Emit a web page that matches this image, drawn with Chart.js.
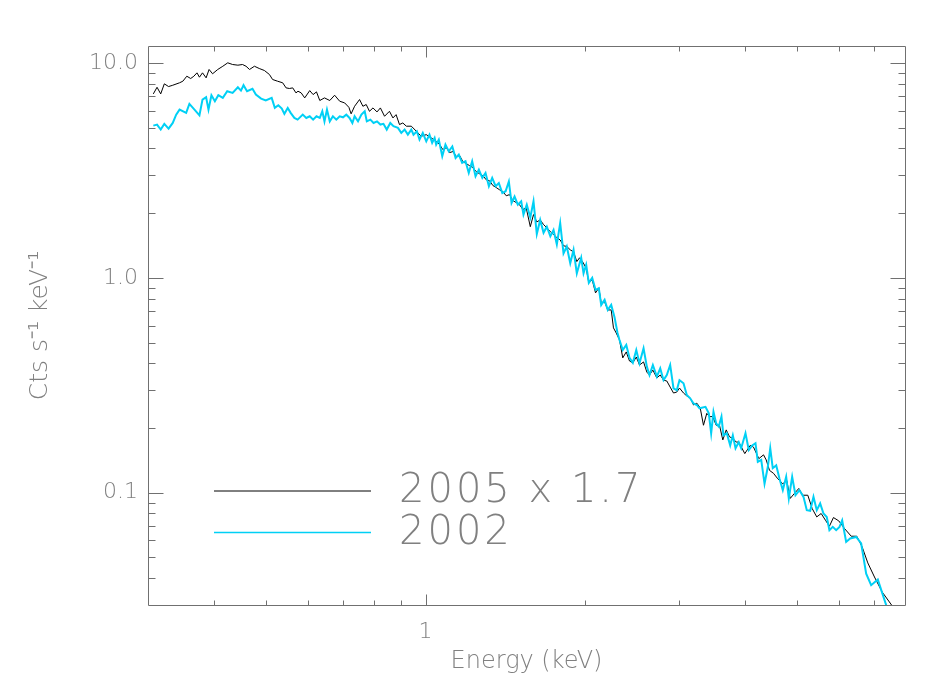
<!DOCTYPE html>
<html><head><meta charset="utf-8">
<script src="https://cdn.jsdelivr.net/npm/chart.js@4/dist/chart.umd.min.js"></script>
<style>html,body{margin:0;padding:0;background:#fff;}#wrap{width:950px;height:700px;}</style>
</head><body><div id="wrap"><canvas id="c" width="950" height="700"></canvas></div>
<script>
// ---- data ----
const seriesLabels = ['2005 x 1.7', '2002'];
const xTitle = 'Energy (keV)';
const yTitle = 'Cts s\u207B\u00B9 keV\u207B\u00B9';
const xTickLabels = {'0': '1'};
const yTickLabels = {'-1': '0.1', '0': '1.0', '1': '10.0'};

const energy2005 = [
0.307,0.312,0.317,0.322,0.328,0.334,0.344,0.349,0.355,0.361,
0.366,0.371,0.375,0.380,0.386,0.391,0.397,0.406,0.415,0.424,
0.433,0.443,0.452,0.459,0.466,0.476,0.486,0.497,0.508,0.515,
0.526,0.538,0.546,0.554,0.562,0.570,0.575,0.583,0.592,0.605,
0.614,0.623,0.632,0.645,0.660,0.674,0.689,0.704,0.717,0.724,
0.735,0.751,0.762,0.773,0.784,0.796,0.810,0.822,0.837,0.855,
0.868,0.880,0.893,0.906,0.920,0.940,0.961,0.981,1.003,1.025,
1.047,1.063,1.078,1.094,1.110,1.126,1.143,1.159,1.176,1.193,
1.210,1.228,1.246,1.264,1.282,1.301,1.320,1.339,1.359,1.378,
1.398,1.419,1.439,1.460,1.482,1.503,1.525,1.547,1.575,1.597,
1.620,1.644,1.668,1.692,1.718,1.742,1.767,1.793,1.819,1.845,
1.873,1.900,1.927,1.950,1.975,2.007,2.030,2.060,2.090,2.120,
2.142,2.174,2.204,2.237,2.259,2.286,2.319,2.352,2.388,2.422,
2.457,2.494,2.529,2.574,2.611,2.641,2.680,2.727,2.767,2.807,
2.847,2.889,2.931,2.973,3.008,3.061,3.105,3.151,3.197,3.243,
3.291,3.338,3.386,3.426,3.475,3.527,3.578,3.630,3.684,3.737,
3.791,3.847,3.890,3.993,4.088,4.147,4.244,4.331,4.382,4.445,
4.523,4.608,4.709,4.790,4.862,4.953,5.047,5.134,5.248,5.348,
5.456,5.561,5.666,5.764,5.866,6.002,6.153,6.336,6.490,6.643,
6.808,7.008,7.245,7.577];
const counts2005 = [
7.18,7.71,7.18,8.00,7.77,7.88,8.09,8.23,8.68,8.47,
8.68,9.00,8.59,9.00,8.53,9.33,8.91,9.33,9.66,10.02,
9.84,9.77,9.84,9.66,9.33,9.66,9.43,9.23,8.84,8.38,
8.23,8.09,7.66,7.61,7.66,7.26,7.39,7.26,6.88,7.44,
7.13,7.34,6.69,6.88,6.69,7.08,6.64,6.52,6.22,5.80,
6.29,6.76,6.29,6.41,5.96,6.18,5.92,6.18,5.65,5.96,
5.55,5.75,5.17,5.26,5.08,5.08,4.81,4.56,4.64,4.48,
4.32,4.17,3.95,4.04,3.83,3.87,3.67,3.71,3.47,3.40,
3.33,3.26,3.12,3.05,2.99,2.86,2.83,2.69,2.63,2.57,
2.52,2.41,2.44,2.29,2.24,2.19,2.08,2.12,1.73,1.97,
1.82,1.86,1.77,1.71,1.64,1.59,1.54,1.50,1.41,1.40,
1.35,1.32,1.19,1.24,1.19,1.11,0.948,0.979,0.851,0.898,
0.765,0.773,0.709,0.709,0.585,0.554,0.514,0.424,0.452,0.410,
0.402,0.428,0.393,0.406,0.364,0.353,0.372,0.342,0.353,0.334,
0.331,0.310,0.291,0.294,0.307,0.291,0.282,0.276,0.256,0.261,
0.248,0.206,0.234,0.226,0.226,0.206,0.206,0.176,0.196,0.182,
0.179,0.172,0.172,0.152,0.166,0.163,0.144,0.150,0.142,0.127,
0.123,0.116,0.110,0.114,0.0940,0.0992,0.1046,0.0973,0.0973,0.0844,
0.0771,0.0800,0.0744,0.0698,0.0766,0.0739,0.0681,0.0627,0.0627,0.0559,
0.0471,0.0405,0.0345,0.0296];

const energy2002 = [
0.307,0.312,0.317,0.322,0.328,0.334,0.339,0.344,0.354,0.359,
0.367,0.375,0.380,0.386,0.390,0.395,0.401,0.407,0.415,0.423,
0.433,0.443,0.449,0.454,0.461,0.472,0.479,0.490,0.500,0.513,
0.520,0.528,0.536,0.542,0.550,0.557,0.566,0.574,0.587,0.596,
0.605,0.614,0.623,0.632,0.639,0.645,0.652,0.660,0.669,0.679,
0.689,0.699,0.709,0.719,0.728,0.735,0.746,0.757,0.768,0.775,
0.787,0.798,0.810,0.822,0.833,0.845,0.858,0.870,0.887,0.900,
0.913,0.926,0.940,0.949,0.963,0.974,0.988,1.003,1.017,1.029,
1.040,1.047,1.059,1.075,1.090,1.106,1.123,1.139,1.155,1.172,
1.189,1.206,1.224,1.242,1.260,1.279,1.297,1.316,1.335,1.355,
1.374,1.395,1.415,1.435,1.452,1.471,1.492,1.514,1.529,1.551,
1.575,1.597,1.620,1.644,1.668,1.692,1.718,1.742,1.767,1.793,
1.819,1.845,1.873,1.900,1.927,1.964,1.984,2.007,2.030,2.060,
2.090,2.120,2.142,2.174,2.204,2.237,2.269,2.299,2.319,2.352,
2.388,2.422,2.457,2.494,2.529,2.574,2.611,2.641,2.680,2.727,
2.767,2.807,2.847,2.889,2.931,2.973,3.008,3.061,3.105,3.151,
3.197,3.243,3.281,3.367,3.416,3.451,3.486,3.527,3.567,3.609,
3.640,3.693,3.748,3.791,3.836,3.890,3.931,4.005,4.063,4.124,
4.183,4.225,4.288,4.350,4.413,4.459,4.508,4.576,4.642,4.709,
4.778,4.833,4.904,4.975,5.062,5.151,5.225,5.303,5.379,5.456,
5.537,5.617,5.698,5.764,5.848,5.935,6.022,6.092,6.198,6.306,
6.474,6.615,6.760,6.908,7.110,7.398];
const counts2002 = [
5.11,5.17,4.90,5.21,4.95,5.26,5.75,6.07,5.86,6.45,
6.07,5.71,6.76,6.93,6.07,7.08,6.64,7.08,6.88,7.39,
7.26,7.71,7.44,7.88,7.39,7.58,7.13,6.83,6.69,6.88,
6.18,6.36,6.14,5.80,6.18,5.86,5.55,5.45,5.75,5.55,
5.65,5.45,5.65,5.55,5.96,5.35,6.07,5.35,5.65,5.45,
5.65,5.59,5.75,5.55,5.26,5.65,5.35,5.75,5.96,5.35,
5.45,5.26,5.35,5.17,5.21,4.90,5.26,5.08,4.99,4.73,
4.90,4.64,4.90,4.64,4.81,4.40,4.73,4.32,4.64,4.25,
4.48,4.17,4.40,3.68,4.17,3.88,4.09,3.61,3.75,3.43,
3.49,3.08,3.49,2.97,3.19,2.92,3.08,2.67,2.92,2.67,
2.76,2.48,2.53,2.81,2.23,2.39,2.19,2.27,1.97,2.19,
1.91,2.27,1.60,1.86,1.62,1.73,1.56,1.67,1.43,1.80,
1.30,1.40,1.17,1.35,1.05,1.24,1.05,1.15,0.948,1.00,
0.879,0.895,0.748,0.790,0.709,0.748,0.658,0.554,0.514,0.461,
0.487,0.424,0.402,0.461,0.400,0.470,0.386,0.353,0.393,0.347,
0.379,0.334,0.353,0.393,0.306,0.300,0.334,0.323,0.285,0.275,
0.260,0.256,0.247,0.251,0.234,0.189,0.238,0.210,0.203,0.226,
0.185,0.189,0.166,0.185,0.161,0.172,0.161,0.189,0.158,0.166,
0.170,0.139,0.142,0.110,0.132,0.161,0.130,0.134,0.116,0.1027,
0.1185,0.0940,0.1185,0.0973,0.1027,0.0956,0.0829,0.0823,0.0956,0.0829,
0.0891,0.0800,0.0771,0.0669,0.0693,0.0669,0.0693,0.0744,0.0590,0.0612,
0.0622,0.0580,0.0420,0.0371,0.0394,0.0292];

// ---- styling ----
const FONT = "'DejaVu Sans', 'Liberation Sans', sans-serif";
const TXT = '#808080';
const AXIS = '#707070';
const BLACK = '#000000';
const CYAN = 'rgb(0,208,245)';

function decadeLabel(v, map) {
  const e = Math.log10(v), r = Math.round(e);
  if (Math.abs(e - r) < 1e-6 && map[String(r)] !== undefined) return map[String(r)];
  return '';
}
function tickKind(v) {
  const e = Math.log10(v), f = Math.floor(e + 1e-9);
  const s = v / Math.pow(10, f);
  if (Math.abs(s - Math.round(s)) > 1e-6) return 0;
  return Math.round(s) === 1 ? 2 : 1;
}
const toPts = (xs, ys) => xs.map((x, i) => ({x, y: ys[i]}));

const overlay = {
  id: 'overlay',
  afterDatasetsDraw(chart) {
    const {ctx, chartArea: a, scales: {x, y}} = chart;
    ctx.save();
    ctx.strokeStyle = AXIS; ctx.lineWidth = 1;
    const L = Math.round(a.left) + 0.5, R = Math.round(a.right) + 0.5;
    const T = Math.round(a.top) + 0.5, B = Math.round(a.bottom) + 0.5;
    ctx.beginPath();
    ctx.rect(L, T, R - L, B - T);
    for (const t of x.ticks) {
      const k = tickKind(t.value); if (!k) continue;
      const px = Math.round(x.getPixelForValue(t.value)) + 0.5;
      if (px <= L + 1 || px >= R - 1) continue;
      const len = k === 2 ? 11 : 5;
      ctx.moveTo(px, B); ctx.lineTo(px, B - len);
      ctx.moveTo(px, T); ctx.lineTo(px, T + len);
    }
    for (const t of y.ticks) {
      const k = tickKind(t.value); if (!k) continue;
      const py = Math.round(y.getPixelForValue(t.value)) + 0.5;
      if (py <= T + 1 || py >= B - 1) continue;
      const len = k === 2 ? 15 : 7;
      ctx.moveTo(L, py); ctx.lineTo(L + len, py);
      ctx.moveTo(R, py); ctx.lineTo(R - len, py);
    }
    ctx.stroke();
    ctx.restore();
  },
  afterDraw(chart) {
    const {ctx} = chart;
    const items = chart.data.datasets.map(d => d);
    const rows = [{ds: items[0], y: 491, ty: 502}, {ds: items[1], y: 532.5, ty: 544}];
    ctx.save();
    for (const r of rows) {
      ctx.beginPath();
      ctx.strokeStyle = r.ds.borderColor;
      ctx.lineWidth = r.ds === items[0] ? 1 : 1.6;
      ctx.moveTo(214, r.y); ctx.lineTo(371, r.y);
      ctx.stroke();
      ctx.fillStyle = TXT;
      ctx.font = "200 40px " + FONT;
      ctx.letterSpacing = '3px';
      ctx.textBaseline = 'alphabetic';
      ctx.textAlign = 'left';
      ctx.fillText(r.ds.label, 399, r.ty);
    }
    ctx.restore();
  }
};

new Chart(document.getElementById('c'), {
  type: 'line',
  data: {
    datasets: [
      {label: seriesLabels[0], data: toPts(energy2005, counts2005), borderColor: BLACK, borderWidth: 1, pointRadius: 0, tension: 0, fill: false, order: 2},
      {label: seriesLabels[1], data: toPts(energy2002, counts2002), borderColor: CYAN, borderWidth: 2, pointRadius: 0, tension: 0, fill: false, order: 1}
    ]
  },
  options: {
    responsive: false, animation: false, devicePixelRatio: 1,
    layout: {padding: {top: 46, right: 45, left: 0, bottom: 0}},
    plugins: {legend: {display: false}, tooltip: {enabled: false}},
    elements: {line: {borderJoinStyle: 'miter'}},
    scales: {
      x: {
        type: 'logarithmic', position: 'bottom', min: 0.3, max: 8,
        grid: {display: false, drawTicks: false}, border: {display: false},
        ticks: {autoSkip: false, maxRotation: 0, padding: 14, color: TXT,
          font: {family: FONT, size: 22, weight: 200},
          callback: (v) => decadeLabel(v, xTickLabels)},
        title: {display: true, text: xTitle, color: TXT, font: {family: FONT, size: 24, weight: 200}, padding: {top: 0, bottom: 24}},
        afterFit: (s) => { s.height = 95; }
      },
      y: {
        type: 'logarithmic', position: 'left', min: 0.03, max: 12,
        grid: {display: false, drawTicks: false}, border: {display: false},
        ticks: {autoSkip: false, padding: 10, color: TXT,
          font: {family: FONT, size: 22, weight: 200},
          callback: (v) => decadeLabel(v, yTickLabels)},
        title: {display: true, text: yTitle, color: TXT, font: {family: FONT, size: 25, weight: 200}, padding: {top: 25, bottom: 0}},
        afterFit: (s) => { s.width = 148; }
      }
    }
  },
  plugins: [overlay]
});
</script>
</body></html>
